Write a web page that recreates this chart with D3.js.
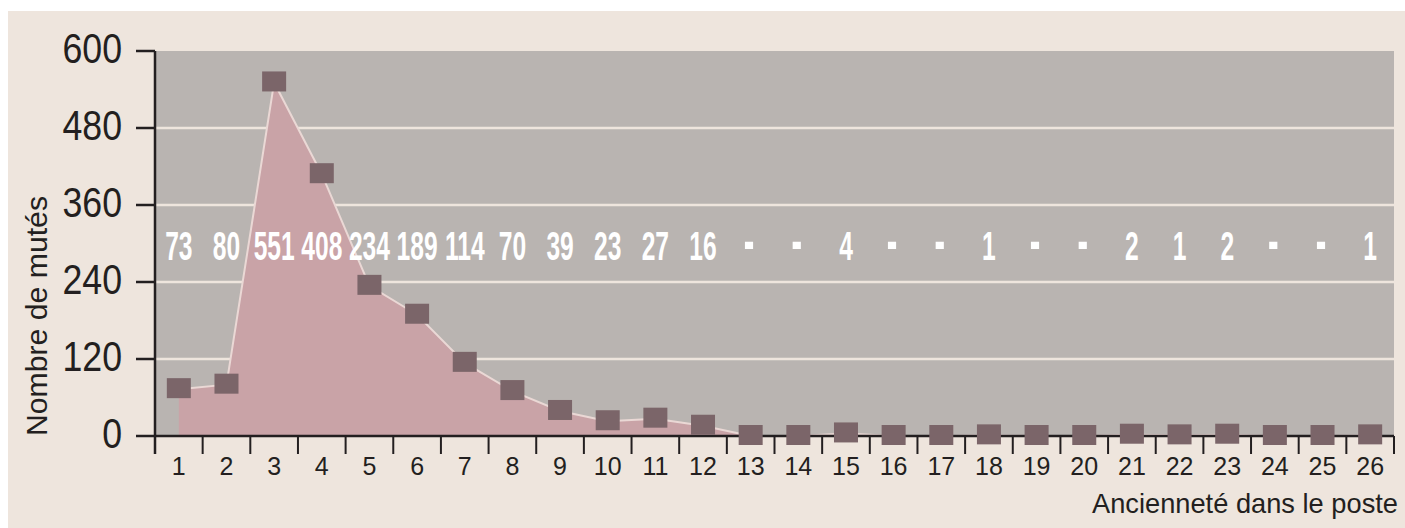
<!DOCTYPE html>
<html>
<head>
<meta charset="utf-8">
<script src="https://cdn.jsdelivr.net/npm/d3@7"></script>
<style>
  html, body { margin: 0; padding: 0; background: #ffffff; }
  svg { display: block; }
</style>
</head>
<body>
<svg id="chart" width="1405" height="528"></svg>
<script>
// Years in post (x categories)
const years = ["1","2","3","4","5","6","7","8","9","10","11","12","13","14","15","16","17","18","19","20","21","22","23","24","25","26"];
// Number of transferred staff per year in post
const counts = [73, 80, 551, 408, 234, 189, 114, 70, 39, 23, 27, 16, 0, 0, 4, 0, 0, 1, 0, 0, 2, 1, 2, 0, 0, 1];
// Printed value row (a dot marks an empty year)
const valueLabels = ["73","80","551","408","234","189","114","70","39","23","27","16","·","·","4","·","·","1","·","·","2","1","2","·","·","1"];
// Y axis ticks
const yTicks = [0, 120, 240, 360, 480, 600];

const svg = d3.select("#chart");
const W = 1405, H = 528;
const plot = { left: 155, right: 1394, top: 51, bottom: 436 };

const colors = {
  paper: "#EEE5DD",
  panel: "#B9B4B1",
  grid: "#EEE5DD",
  area: "#C9A3A7",
  line: "#EAD8D5",
  marker: "#7B6569",
  ink: "#231F20"
};

// outer background
svg.append("rect")
  .attr("x", 8).attr("y", 11)
  .attr("width", W - 8).attr("height", H - 11)
  .attr("fill", colors.paper);

const x = d3.scaleBand().domain(years).range([plot.left, plot.right]).padding(0);
const y = d3.scaleLinear().domain([0, 600]).range([plot.bottom, plot.top]);
const cx = d => x(d) + x.bandwidth() / 2;

// plot panel
svg.append("rect")
  .attr("x", plot.left).attr("y", plot.top)
  .attr("width", plot.right - plot.left).attr("height", plot.bottom - plot.top)
  .attr("fill", colors.panel);

// horizontal gridlines
svg.append("g")
  .selectAll("line")
  .data(yTicks.filter(t => t > 0 && t < 600))
  .join("line")
  .attr("x1", plot.left).attr("x2", plot.right)
  .attr("y1", d => y(d)).attr("y2", d => y(d))
  .attr("stroke", colors.grid)
  .attr("stroke-width", 2.5);

const series = years.map((yr, i) => ({ yr, v: counts[i] }));

// filled area under the series
svg.append("path")
  .datum(series)
  .attr("fill", colors.area)
  .attr("d", d3.area().x(d => cx(d.yr)).y0(y(0)).y1(d => y(d.v)));

// outline of the series
svg.append("path")
  .datum(series)
  .attr("fill", "none")
  .attr("stroke", colors.line)
  .attr("stroke-width", 2)
  .attr("d", d3.line().x(d => cx(d.yr)).y(d => y(d.v)));

// value row: condensed bold figures, dots kept square
const labelRow = svg.append("g");
labelRow.selectAll("text")
  .data(valueLabels)
  .join("text")
  .attr("transform", (d, i) => `translate(${cx(years[i])},${d === "·" ? 262 : 260}) scale(${d === "·" ? 1.2 : 0.6},1)`)
  .attr("text-anchor", "middle")
  .attr("font-family", "'Liberation Sans', Arial, sans-serif")
  .attr("font-weight", "bold")
  .attr("font-size", d => d === "·" ? 48 : 41)
  .attr("fill", "#ffffff")
  .text(d => d);

// X axis
const xAxis = svg.append("g").attr("transform", `translate(0,${plot.bottom})`);
xAxis.append("line")
  .attr("x1", plot.left).attr("x2", plot.right)
  .attr("stroke", colors.ink).attr("stroke-width", 2.5);
xAxis.selectAll("line.tick")
  .data(d3.range(years.length + 1))
  .join("line")
  .attr("class", "tick")
  .attr("x1", i => plot.left + i * x.step())
  .attr("x2", i => plot.left + i * x.step())
  .attr("y1", 0).attr("y2", 18)
  .attr("stroke", colors.ink).attr("stroke-width", 2);
xAxis.selectAll("text")
  .data(years)
  .join("text")
  .attr("x", d => cx(d))
  .attr("y", 39)
  .attr("text-anchor", "middle")
  .attr("font-family", "'Liberation Sans', Arial, sans-serif")
  .attr("font-size", 25)
  .attr("fill", colors.ink)
  .text(d => d);

// markers
svg.append("g")
  .selectAll("rect")
  .data(series)
  .join("rect")
  .attr("x", d => cx(d.yr) - 12)
  .attr("y", d => y(d.v) - 11)
  .attr("width", 24).attr("height", 20)
  .attr("fill", colors.marker);

// Y axis
const yAxis = svg.append("g");
yAxis.append("line")
  .attr("x1", plot.left).attr("x2", plot.left)
  .attr("y1", plot.top).attr("y2", plot.bottom + 18)
  .attr("stroke", colors.ink).attr("stroke-width", 2.5);
yAxis.selectAll("line.tick")
  .data(yTicks)
  .join("line")
  .attr("class", "tick")
  .attr("x1", 136).attr("x2", plot.left)
  .attr("y1", d => y(d)).attr("y2", d => y(d))
  .attr("stroke", colors.ink).attr("stroke-width", 2.5);
yAxis.selectAll("text")
  .data(yTicks)
  .join("text")
  .attr("transform", d => `translate(122,${y(d) + 12}) scale(0.85,1)`)
  .attr("text-anchor", "end")
  .attr("font-family", "'Liberation Sans', Arial, sans-serif")
  .attr("font-size", 42)
  .attr("fill", colors.ink)
  .text(d => d);

// axis titles
svg.append("text")
  .attr("x", 1398).attr("y", 513)
  .attr("text-anchor", "end")
  .attr("font-family", "'Liberation Sans', Arial, sans-serif")
  .attr("font-size", 28)
  .attr("textLength", 306)
  .attr("lengthAdjust", "spacingAndGlyphs")
  .attr("fill", colors.ink)
  .text("Ancienneté dans le poste");

svg.append("text")
  .attr("transform", "translate(47,316) rotate(-90)")
  .attr("text-anchor", "middle")
  .attr("font-family", "'Liberation Sans', Arial, sans-serif")
  .attr("font-size", 30)
  .attr("textLength", 240)
  .attr("lengthAdjust", "spacingAndGlyphs")
  .attr("fill", colors.ink)
  .text("Nombre de mutés");
</script>
</body>
</html>
